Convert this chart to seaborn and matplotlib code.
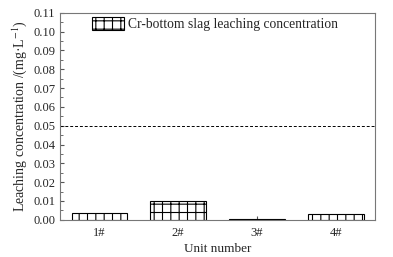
import numpy as np
import pandas as pd
import matplotlib
matplotlib.use("Agg")
import matplotlib.pyplot as plt
import seaborn as sns
from matplotlib.ticker import MultipleLocator

units = ["1#", "2#", "3#", "4#"]
cr_leach = [0.0036, 0.0098, 0.0002, 0.0033]
limit_value = 0.05

df = pd.DataFrame({"unit": units, "conc": cr_leach})

sns.set_style("ticks")
plt.rcParams["font.family"] = ["Liberation Serif", "DejaVu Serif"]
plt.rcParams["mathtext.fontset"] = "stix"
plt.rcParams["hatch.linewidth"] = 0.8

fig, ax = plt.subplots(figsize=(3.93, 2.57), dpi=100)
sns.barplot(data=df, x="unit", y="conc", color="white", edgecolor="black",
            linewidth=0.8, width=0.71, hatch="++", label="Cr-bottom slag leaching concentration", ax=ax)

# limit line
ax.axhline(limit_value, color="black", linestyle=(0, (3, 2)), linewidth=0.7)

ax.set_xlim(-0.5, 3.5)
ax.set_ylim(0, 0.11)
ax.yaxis.set_major_locator(MultipleLocator(0.01))
ax.yaxis.set_minor_locator(MultipleLocator(0.005))
ax.yaxis.set_major_formatter(matplotlib.ticker.FormatStrFormatter("%.2f"))
ax.tick_params(axis="both", which="both", direction="in", labelsize=9, color="#555555")
ax.tick_params(axis="y", which="major", length=3)
ax.tick_params(axis="y", which="minor", length=1.8)
ax.tick_params(axis="x", length=3, pad=5)
for s in ax.spines.values():
    s.set_visible(True)
    s.set_color("#777777")
    s.set_linewidth(0.8)

ax.set_xlabel("Unit number", fontsize=9.5, labelpad=3)
ax.set_ylabel("Leaching concentration /(mg·L$^{-1}$)", fontsize=10, labelpad=3)

leg = ax.legend(loc="upper left", bbox_to_anchor=(0.085, 1.007), frameon=False, fontsize=9.8,
                handlelength=2.3, handleheight=1.1, handletextpad=0.3, borderaxespad=0)

fig.subplots_adjust(left=0.153, right=0.954, top=0.95, bottom=0.145)
fig.savefig("out.png", dpi=100)
